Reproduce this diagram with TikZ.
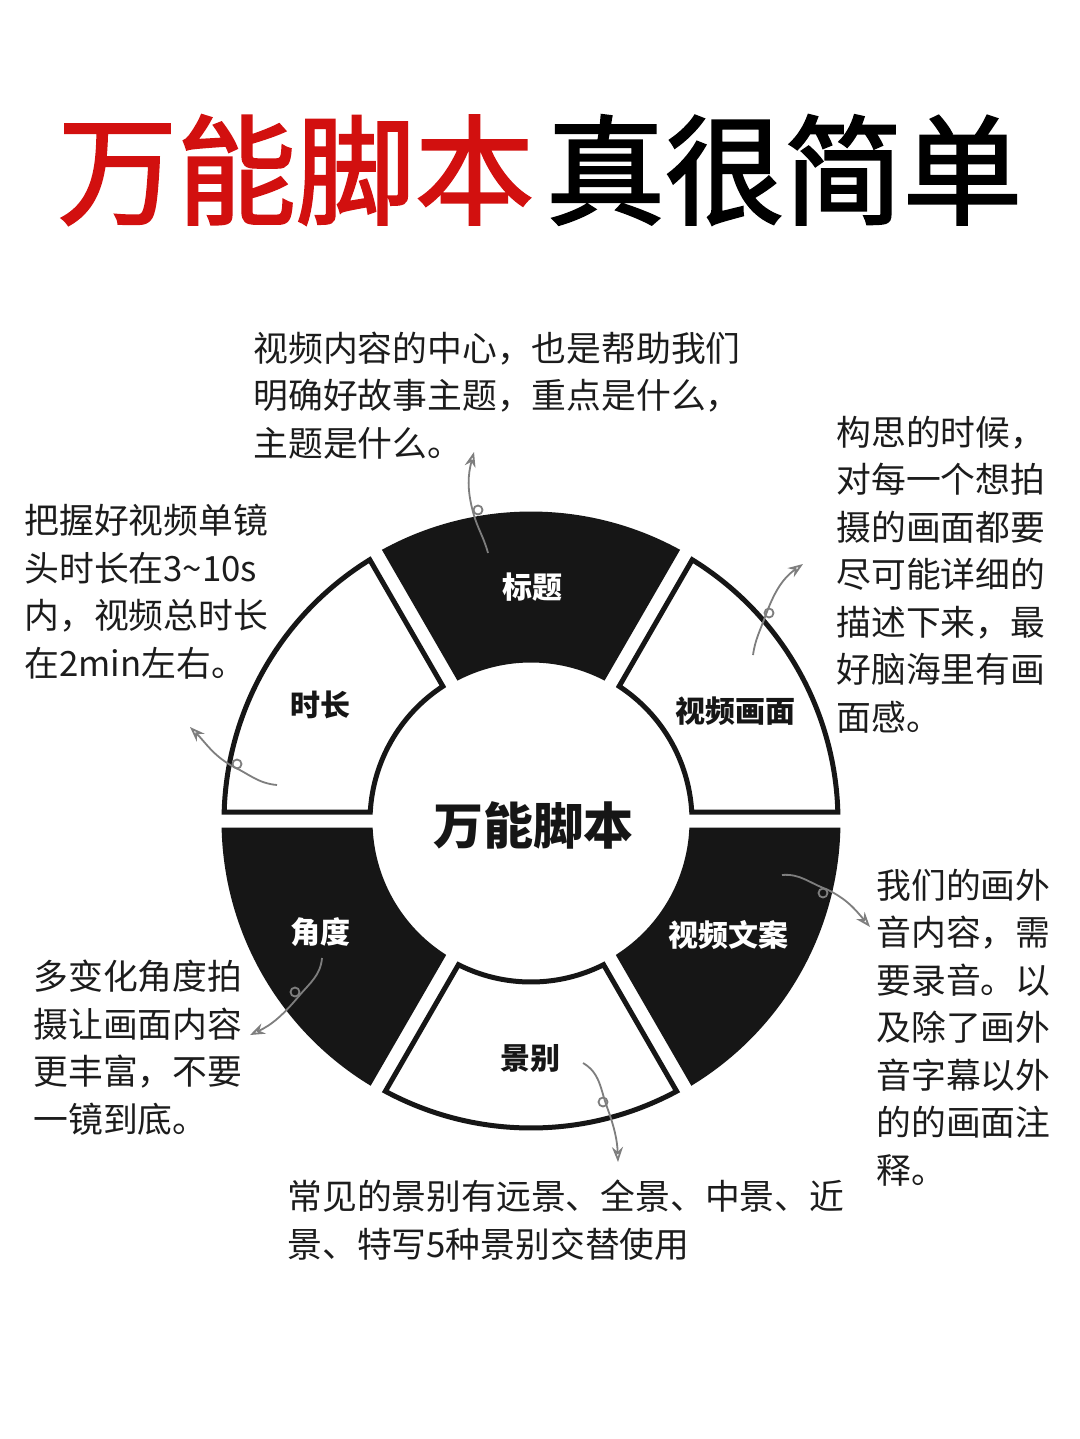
\documentclass[tikz,border=0pt]{standalone}
\usepackage{fontspec}
\setmainfont{Noto Sans CJK SC}
\newfontfamily\titlefont{Noto Sans CJK SC}[FakeBold=2]
\usetikzlibrary{arrows.meta}
\definecolor{titlered}{HTML}{D2100F}
\definecolor{segblack}{HTML}{161616}
\definecolor{txt}{HTML}{1C1C1C}
\definecolor{arrgray}{HTML}{7E7E7E}
\newcommand\ringsector[3]{%
  \pgfmathsetmacro\dO{asin(\gap/\Ro)}%
  \pgfmathsetmacro\dI{asin(\gap/\Ri)}%
  \draw[#3] ({#1+\dO}:\Ro) arc[start angle={#1+\dO}, end angle={#2-\dO}, radius=\Ro]
    -- ({#2-\dI}:\Ri) arc[start angle={#2-\dI}, end angle={#1+\dI}, radius=\Ri] -- cycle;
}
\begin{document}
\begin{tikzpicture}[x=0.5pt,y=0.5pt,
  segw/.style={draw=segblack, fill=white, line width=2.5pt, line join=miter},
  segb/.style={draw=segblack, fill=segblack, line width=2.5pt, line join=miter},
  body/.style={anchor=base west, inner sep=0pt, align=left, text=txt,
    font=\fontsize{17.4pt}{23.75pt}\selectfont},
  seglabel/.style={inner sep=0pt, font=\fontsize{15pt}{15pt}\selectfont\bfseries},
  arr/.style={draw=arrgray, line width=0.9pt, -{Stealth[open, length=7.5pt, width=5.5pt]}},
  loopc/.style={draw=arrgray, line width=0.9pt}]
\useasboundingbox (0,0) rectangle (1080,-1439);
\fill[white] (0,0) rectangle (1080,-1439);

% title
\node[inner sep=0pt, font=\fontsize{59.5pt}{60pt}\titlefont] (title) at (540,-170)
  {\textcolor{titlered}{万能脚本}\hspace{6pt}真很简单};

% ring
\begin{scope}[shift={(531,-821)}]
  \def\Ro{307}\def\Ri{161}\def\gap{9}
  \ringsector{60}{120}{segb}
  \ringsector{0}{60}{segw}
  \ringsector{-60}{0}{segb}
  \ringsector{-120}{-60}{segw}
  \ringsector{180}{240}{segb}
  \ringsector{120}{180}{segw}
\end{scope}

% labels
\node[seglabel, text=white] (biaoti) at (532,-587) {标题};
\node[seglabel, text=segblack] (shichang) at (320,-705) {时长};
\node[seglabel, text=segblack] (huamian) at (735,-711) {视频画面};
\node[seglabel, text=white] (wenan) at (728,-935) {视频文案};
\node[seglabel, text=white] (jiaodu) at (320,-932) {角度};
\node[seglabel, text=segblack] (jingbie) at (530,-1058) {景别};
\node[inner sep=0pt, text=segblack, font=\fontsize{25pt}{25pt}\selectfont\bfseries] (center) at (533,-825) {万能脚本};

% text blocks (anchor = baseline of last line)
\node[body] (ttop) at (253,-456) {视频内容的中心，也是帮助我们\\明确好故事主题，重点是什么，\\主题是什么。};
\node[body] (tright) at (836,-730) {构思的时候，\\对每一个想拍\\摄的画面都要\\尽可能详细的\\描述下来，最\\好脑海里有画\\面感。};
\node[body] (tleft) at (24,-676) {把握好视频单镜\\头时长在3\textasciitilde10s\\内，视频总时长\\在2min左右。};
\node[body] (tleftb) at (33,-1132) {多变化角度拍\\摄让画面内容\\更丰富，不要\\一镜到底。};
\node[body] (trightb) at (876,-1183) {我们的画外\\音内容，需\\要录音。以\\及除了画外\\音字幕以外\\的的画面注\\释。};
\node[body] (tbottom) at (287,-1257) {常见的景别有远景、全景、中景、近\\景、特写5种景别交替使用};

% arrows
\coordinate (a1s) at (488,-553); \coordinate (a1l) at (473,-512); \coordinate (a1t) at (474,-452);
\draw[arr] (a1s) to[out=105,in=-75] (a1l) to[out=105,in=255] (a1t);
\draw[loopc] (478,-510) circle[radius=4.5];

\coordinate (a2s) at (753,-655); \coordinate (a2l) at (765,-617); \coordinate (a2t) at (803,-564);
\draw[arr] (a2s) to[out=82,in=-110] (a2l) to[out=70,in=215] (a2t);
\draw[loopc] (769,-613) circle[radius=4.5];

\coordinate (a3s) at (277,-785); \coordinate (a3l) at (232,-766); \coordinate (a3t) at (190,-727);
\draw[arr] (a3s) to[out=175,in=-25] (a3l) to[out=150,in=-45] (a3t);
\draw[loopc] (237,-764) circle[radius=4.5];

\coordinate (a4s) at (322,-958); \coordinate (a4l) at (299,-996); \coordinate (a4t) at (250,-1035);
\draw[arr] (a4s) to[out=-95,in=50] (a4l) to[out=-130,in=25] (a4t);
\draw[loopc] (295,-992) circle[radius=4.5];

\coordinate (a5s) at (583,-1063); \coordinate (a5l) at (607,-1107); \coordinate (a5t) at (618,-1162);
\draw[arr] (a5s) to[out=-30,in=110] (a5l) to[out=-70,in=92] (a5t);
\draw[loopc] (603,-1102) circle[radius=4.5];

\coordinate (a6s) at (782,-875); \coordinate (a6l) at (826,-889); \coordinate (a6t) at (870,-927);
\draw[arr] (a6s) to[out=5,in=160] (a6l) to[out=-25,in=130] (a6t);
\draw[loopc] (823,-893) circle[radius=4.5];
\end{tikzpicture}
\end{document}
